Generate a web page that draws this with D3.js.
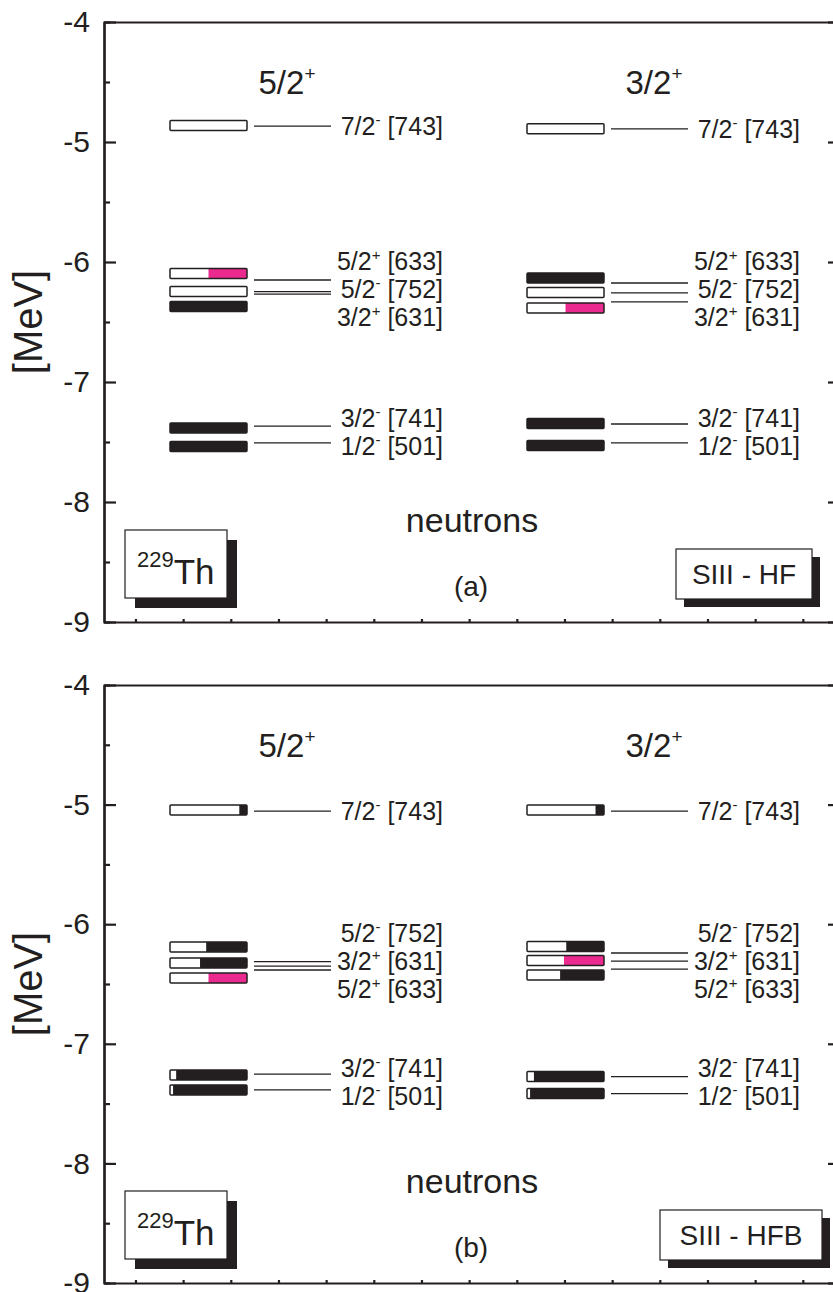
<!DOCTYPE html>
<html>
<head>
<meta charset="utf-8">
<script src="https://cdn.jsdelivr.net/npm/d3@7"></script>
<style>
  body { margin: 0; background: #fff; }
  text { font-family: Arial, "Liberation Sans", sans-serif; fill: #231f20; }
</style>
</head>
<body>
<script>
// column headers (ground state spin of 229Th)
const columns = ["5/2+", "3/2+"];

// orbitals listed top to bottom in each panel
const orbitalsA = ["7/2- [743]", "5/2+ [633]", "5/2- [752]", "3/2+ [631]", "3/2- [741]", "1/2- [501]"];
const orbitalsB = ["7/2- [743]", "5/2- [752]", "3/2+ [631]", "5/2+ [633]", "3/2- [741]", "1/2- [501]"];

// (a) SIII - HF : energies [MeV] of the box marks and of the level lines
const boxA1  = [-4.863, -6.096, -6.246, -6.371, -7.383, -7.538];
const lineA1 = [-4.867, -6.150, -6.247, -6.267, -7.367, -7.508];
const fillA1 = [0, 0.5, 0, 1, 1, 1];
const boxA2  = [-4.890, -6.133, -6.254, -6.383, -7.346, -7.529];
const lineA2 = [-4.890, -6.175, -6.258, -6.333, -7.350, -7.508];
const fillA2 = [0, 1, 0, 0.5, 1, 1];

// (b) SIII - HFB
const boxB1  = [-5.045, -6.190, -6.324, -6.450, -7.261, -7.386];
const lineB1 = [-5.054, -6.313, -6.350, -6.383, -7.253, -7.386];
const fillB1 = [0.10, 0.53, 0.61, 0.50, 0.92, 0.96];
const boxB2  = [-5.045, -6.186, -6.303, -6.425, -7.274, -7.416];
const lineB2 = [-5.054, -6.241, -6.308, -6.375, -7.274, -7.416];
const fillB2 = [0.11, 0.49, 0.52, 0.57, 0.91, 0.96];

// blocked orbital per column (drawn magenta)
const blocked = ["5/2+ [633]", "3/2+ [631]"];

const yTicks = [-4, -5, -6, -7, -8, -9];
const yMinor = [-4.5, -5.5, -6.5, -7.5, -8.5];
const xTicks = d3.range(0, 15);

const panelNames = ["(a)", "(b)"];
const methods = ["SIII - HF", "SIII - HFB"];

const panels = [
  { top: 22, bottom: 622, orbitals: orbitalsA, name: panelNames[0], method: methods[0],
    cols: [{ box: boxA1, line: lineA1, fill: fillA1 }, { box: boxA2, line: lineA2, fill: fillA2 }] },
  { top: 685, bottom: 1283, orbitals: orbitalsB, name: panelNames[1], method: methods[1],
    cols: [{ box: boxB1, line: lineB1, fill: fillB1 }, { box: boxB2, line: lineB2, fill: fillB2 }] }
];

const W = 833, H = 1292;
const left = 104, right = 840;
const black = "#231f20", magenta = "#ea2a8e";

const svg = d3.select("body").append("svg")
  .attr("width", W)
  .attr("height", H);

const x = d3.scaleLinear().domain([-0.66, 14.78]).range([left, right]);
const colX = d3.scalePoint().domain(columns).range([170, 527]);

// write "7/2- [743]" style text with a superscript parity sign
function spinText(sel, s, small, lift) {
  const m = s.match(/^(\d+\/2)([+-])(.*)$/);
  sel.append("tspan").text(m[1]);
  sel.append("tspan").attr("font-size", small).attr("dy", -lift).text(m[2]);
  if (m[3]) sel.append("tspan").attr("dy", lift).text(m[3]);
}

panels.forEach(function(p) {
  const y = d3.scaleLinear().domain([-4, -9]).range([p.top, p.bottom]);
  const g = svg.append("g");

  // axes
  const ax = g.append("g").attr("transform", "translate(" + left + ",0)")
    .call(d3.axisLeft(y).tickValues(yTicks).tickSizeInner(-12).tickSizeOuter(0).tickPadding(14)
      .tickFormat(function(d) { return String(d); }));
  ax.selectAll("text").attr("font-size", 30).attr("fill", black);
  g.append("g").attr("transform", "translate(" + left + ",0)")
    .call(d3.axisLeft(y).tickValues(yMinor).tickSize(-6).tickFormat(""));
  g.append("g").attr("transform", "translate(" + right + ",0)")
    .call(d3.axisRight(y).tickValues(yTicks).tickSizeInner(-12).tickSizeOuter(0).tickFormat(""));
  g.append("g").attr("transform", "translate(" + right + ",0)")
    .call(d3.axisRight(y).tickValues(yMinor).tickSize(-6).tickFormat(""));
  g.append("g").attr("transform", "translate(0," + p.bottom + ")")
    .call(d3.axisBottom(x).tickValues(xTicks).tickSizeInner(-3).tickSizeOuter(0).tickFormat(""));
  g.append("g").attr("transform", "translate(0," + p.top + ")")
    .call(d3.axisTop(x).tickValues([]).tickSizeOuter(0));
  g.selectAll(".domain, .tick line").attr("stroke", black).attr("stroke-width", 2.2);

  // y title
  g.append("text")
    .attr("transform", "translate(42," + y(-6.5) + ") rotate(-90)")
    .attr("text-anchor", "middle")
    .attr("font-size", 40)
    .text("[MeV]");

  // rows per column
  const colRows = p.cols.map(function(c) {
    return p.orbitals.map(function(o, i) {
      return { i: i, name: o, box: c.box[i], line: c.line[i], fill: c.fill[i] };
    });
  });

  // label groups: neighbouring levels closer than 0.3 MeV share a block
  const groups = [];
  colRows[0].forEach(function(r) {
    const last = groups[groups.length - 1];
    if (last && Math.abs(colRows[0][last[last.length - 1]].line - r.line) < 0.3) last.push(r.i);
    else groups.push([r.i]);
  });

  p.cols.forEach(function(c, ci) {
    const cx = colX(columns[ci]);
    const rows = colRows[ci];
    const head = g.append("text")
      .attr("x", cx + 117 + ci * 10)
      .attr("y", p.top + 72)
      .attr("text-anchor", "middle")
      .attr("font-size", 33);
    spinText(head, columns[ci], 19, 14);

    // boxes
    const bw = 77, bh = 10;
    rows.forEach(function(r) {
      const yy = y(r.box) - bh / 2;
      const isBlocked = r.name === blocked[ci];
      g.append("rect").attr("x", cx).attr("y", yy).attr("width", bw).attr("height", bh)
        .attr("fill", "#fff");
      if (r.fill > 0) {
        g.append("rect")
          .attr("x", cx + bw * (1 - r.fill)).attr("y", yy)
          .attr("width", bw * r.fill).attr("height", bh)
          .attr("fill", isBlocked ? magenta : black);
      }
      g.append("rect").attr("x", cx).attr("y", yy).attr("width", bw).attr("height", bh)
        .attr("rx", 1)
        .attr("fill", "none").attr("stroke", black).attr("stroke-width", 1.5);
    });

    // level lines
    g.selectAll(null).data(rows).enter().append("line")
      .attr("x1", cx + 84).attr("x2", cx + 161)
      .attr("y1", function(d) { return y(d.line); })
      .attr("y2", function(d) { return y(d.line); })
      .attr("stroke", black).attr("stroke-width", 1.3);

    // labels: spread around the mean of the group's lines in both columns
    groups.forEach(function(gr) {
      const ys = [];
      gr.forEach(function(i) { colRows.forEach(function(cr) { ys.push(y(cr[i].line)); }); });
      const mid = gr.length > 1 ? d3.mean(ys) - 2 : y(rows[gr[0]].line);
      gr.forEach(function(i, k) {
        const yy = mid + (k - (gr.length - 1) / 2) * 28;
        const t = g.append("text")
          .attr("x", cx + 273).attr("y", yy + 9)
          .attr("text-anchor", "end")
          .attr("font-size", 25);
        spinText(t, rows[i].name, 15, 10);
      });
    });
  });

  // bottom texts
  g.append("text").attr("x", 472).attr("y", y(-8.15) + 12)
    .attr("text-anchor", "middle").attr("font-size", 34).text("neutrons");
  g.append("text").attr("x", 471).attr("y", y(-8.7) + 10)
    .attr("text-anchor", "middle").attr("font-size", 28).text(p.name);

  // nucleus box with shadow
  const thTop = p.bottom - 92;
  g.append("rect").attr("x", 135).attr("y", thTop + 10).attr("width", 102).attr("height", 68).attr("fill", black);
  g.append("rect").attr("x", 125).attr("y", thTop).attr("width", 102).attr("height", 68)
    .attr("fill", "#fff").attr("stroke", black).attr("stroke-width", 1.2);
  const th = g.append("text").attr("x", 137).attr("y", thTop + 54).attr("font-size", 35);
  th.append("tspan").attr("font-size", 22).attr("dy", -17).text("229");
  th.append("tspan").attr("dy", 17).text("Th");

  // method box with shadow
  const mw = p.method.length > 9 ? 162 : 136;
  const mx = 812 + (p.method.length > 9 ? 10 : 0) - mw;
  const mTop = p.bottom - 73;
  g.append("rect").attr("x", mx + 8).attr("y", mTop + 8).attr("width", mw).attr("height", 50).attr("fill", black);
  g.append("rect").attr("x", mx).attr("y", mTop).attr("width", mw).attr("height", 50)
    .attr("fill", "#fff").attr("stroke", black).attr("stroke-width", 1.2);
  g.append("text").attr("x", mx + mw / 2).attr("y", mTop + 35)
    .attr("text-anchor", "middle").attr("font-size", 28).text(p.method);
});
</script>
</body>
</html>
